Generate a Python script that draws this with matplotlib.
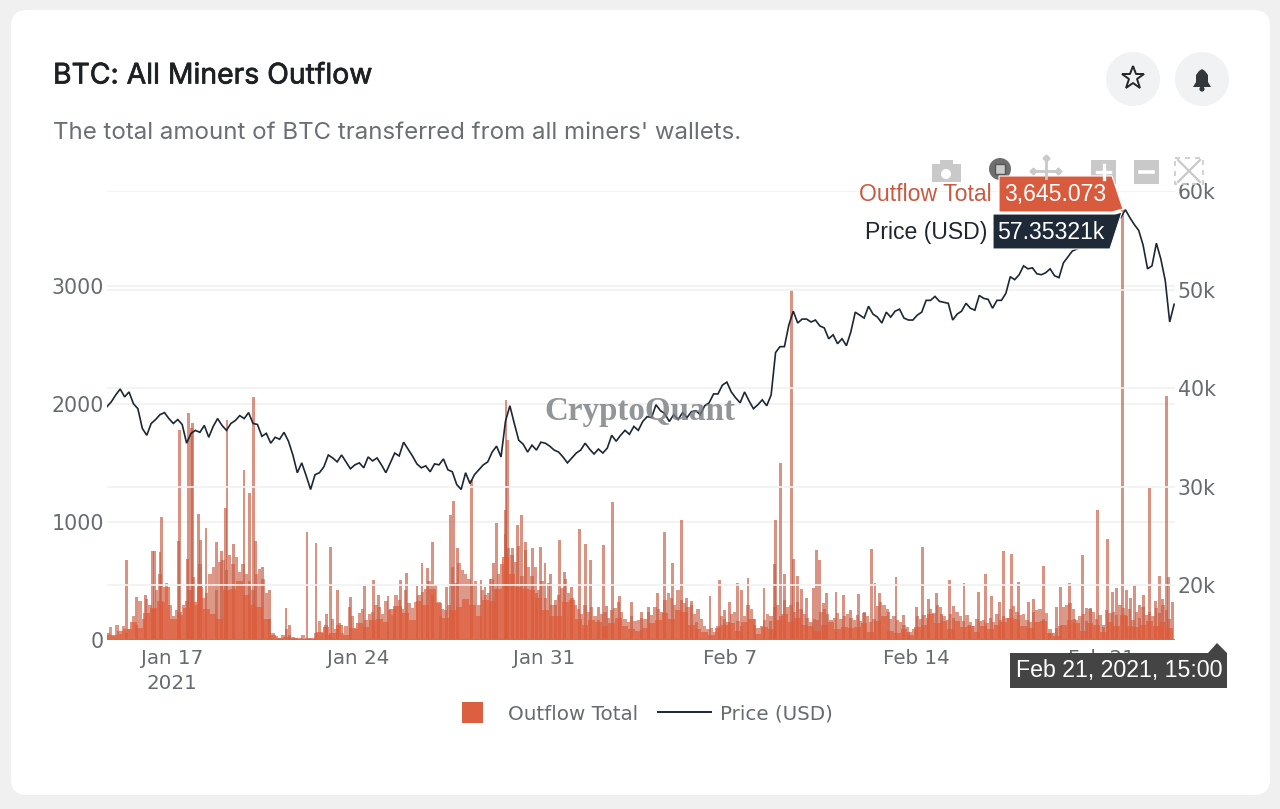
import datetime as dt
import matplotlib
matplotlib.use("Agg")
import matplotlib.pyplot as plt
import matplotlib.dates as mdates
import matplotlib.patheffects as pe
from matplotlib.patches import FancyBboxPatch, Circle, Rectangle, Polygon

# ---------- data ----------
jan17 = mdates.date2num(dt.datetime(2021, 1, 17))

# individual outflow spikes: day offset from Jan 17, BTC
spike_days = [-1.70,-1.33,-0.99,-0.73,-0.66,-0.45,-0.41,0.24,0.27,0.58,0.61,0.72,0.78,1.00,1.09,1.28,1.68,1.88,2.02,2.07,2.33,2.71,2.90,3.07,3.15,3.40,3.66,4.29,4.44,
 5.08,5.42,5.82,5.97,6.22,6.72,7.23,7.60,7.77,8.13,8.39,8.61,8.84,9.22,9.41,9.61,9.79,10.09,10.34,10.49,10.61,10.74,11.28,11.63,11.78,11.97,12.09,12.22,12.55,12.57,12.62,12.83,13.02,
 13.17,13.29,13.57,13.73,13.88,14.04,14.23,14.42,14.60,14.79,15.04,15.32,15.55,15.76,16.06,16.23,16.36,16.57,16.83,17.30,17.68,17.95,18.27,18.52,18.84,19.19,19.37,19.56,19.75,
 20.25,20.60,20.81,21.00,21.30,21.44,21.68,21.94,22.28,22.53,22.68,22.71,22.91,23.04,23.32,23.38,23.53,23.70,23.89,24.16,24.26,24.36,24.51,24.64,24.99,25.27,
 25.52,25.83,26.08,26.32,26.46,26.64,26.96,27.25,27.52,27.71,28.03,28.25,28.46,28.78,28.96,29.26,29.43,29.81,30.03,30.37,30.63,30.85,31.16,31.31,31.61,31.85,32.23,32.41,32.79,33.02,
 33.29,33.44,33.77,33.98,34.27,34.42,34.57,34.85,35.05,35.20,35.40,35.55,35.79,35.93,36.08,36.24,36.41,36.58,36.78,37.00,37.16,37.29,37.44,37.49,37.64]
spike_values = [678,367,381,757,757,746,1042,836,1780,685,1920,1800,1836,1068,850,949,830,750,1115,1864,810,1441,1245,2060,840,620,420,270,130,
 918,822,220,790,420,367,460,510,380,370,290,510,565,460,650,610,830,200,450,1060,1180,780,1356,510,450,520,650,990,1100,2034,1695,780,975,
 1060,830,780,400,790,650,560,300,848,580,450,940,813,680,280,805,290,1172,370,320,240,280,400,918,655,1017,360,330,150,
 370,510,250,320,480,420,525,130,440,160,640,1017,1500,560,2966,690,540,430,360,440,763,680,310,400,410,380,
 250,390,240,770,480,400,240,530,210,70,280,790,350,400,220,510,290,480,130,410,560,370,320,750,730,490,325,350,630,60,
 280,450,480,180,720,270,270,1100,110,860,410,440,3645,420,360,470,300,380,1288,330,540,350,2068,530,320]

# light envelope of the outflow, every 3 hours from Jan 14 13:00
mid_values = [40,110,30,130,50,120,60,90, 200,130,330,180,350,300,260,420, 560,320,480,300,200,250,240,300,
 330,420,530,300,640,360,400,560, 620,420,660,680,590,720,640,700, 580,640,560,500,420,560,600,520,
 400,180,60,30,20,40,90,40, 25,15,12,40,20,15,10,60, 160,60,130,40,180,90,140,60,
 120,280,200,90,230,260,170,220, 240,300,280,220,330,250,210,380, 340,260,420,310,270,320,380,410,
 430,500,380,470,320,260,250,300, 620,480,650,590,560,520,470,500, 300,420,380,400,520,430,560,640,
 900,780,720,660,800,540,760,620, 540,620,420,500,360,480,300,340, 380,440,520,400,360,300,260,220,
 300,240,280,200,170,220,240,190, 250,270,320,240,180,150,200,160, 170,190,180,240,210,280,260,240,
 340,400,360,300,420,340,310,280, 300,220,260,180,120,90,100,70, 120,200,180,150,220,240,160,120,
 200,300,260,180,100,120,170,220, 200,280,300,200,340,280,300,240, 320,260,220,190,150,180,170,240,
 260,220,170,190,230,180,200,220, 190,170,210,160,230,200,150,180, 290,320,300,260,180,200,170,150,
 130,110,70,90,200,180,210,190, 260,230,300,280,200,170,220,190, 240,200,160,210,150,120,180,160,
 170,140,190,150,220,170,200,190, 260,290,240,210,220,170,150,240, 250,260,180,230,90,60,100,120,
 280,300,310,260,170,200,220,160, 260,240,180,210,130,250,230,240, 210,300,270,200,260,170,240,190,
 280,210,240,200,270,230,300,250, 180]

# dense low-level outflow, every 6 hours from Jan 14 13:00
base_values = [60,45,80,90, 150,100,230,270, 330,450,180,210, 270,320,450,260, 220,180,420,430,
 500,380,300,280, 180,40,15,25, 20,15,10,15, 70,110,60,130, 40,100,140,110,
 170,180,150,260, 290,230,170,330, 300,430,310,190, 250,280,350,300, 200,340,330,430,
 700,560,450,430, 420,360,250,200, 200,320,340,180, 130,170,150,120, 140,190,120,90,
 80,100,140,170, 230,180,250,240, 130,90,70,40, 100,130,140,80, 150,180,50,110,
 90,170,220,150, 190,130,120,80, 130,150,90,110, 100,110,140,70, 160,200,80,60,
 90,40,110,130, 220,140,160,90, 160,110,120,70, 120,90,130,150, 190,180,120,100,
 150,160,60,30, 130,170,140,80, 140,130,70,150, 120,210,120,110, 130,160,120,150, 100]

# price in thousand USD, every 4 hours from Jan 14 13:00
price_k = [38.1,38.6,39.3,39.9,39.1,39.6, 38.4,37.9,35.9,35.2,36.4,36.8, 37.3,37.5,36.9,36.4,36.8,36.3,
 34.4,35.4,35.7,35.5,36.2,35.0, 36.1,36.9,36.2,35.7,36.4,36.7, 37.2,36.9,37.5,36.4,36.3,35.1,
 35.4,34.4,35.0,34.8,35.5,34.6, 33.2,31.4,32.4,31.1,29.7,31.2, 31.4,32.0,33.2,32.9,32.5,33.2,
 32.5,31.8,32.2,32.4,31.9,33.0, 32.6,32.9,32.2,31.4,32.4,33.4, 33.1,34.5,33.8,33.1,32.3,31.9,
 32.1,31.5,32.3,32.2,32.8,31.7, 31.5,30.2,29.7,31.4,30.3,31.2, 31.7,32.2,32.5,33.5,34.1,33.0,
 36.6,38.2,36.4,34.7,34.3,33.5, 34.2,33.7,34.5,34.4,34.1,33.7, 33.5,33.0,32.4,32.9,33.4,33.7,
 34.4,33.8,33.3,33.8,33.4,33.9, 35.2,34.6,35.2,35.7,35.3,36.1, 35.7,36.6,37.1,37.0,38.3,37.7,
 37.4,36.6,37.3,36.8,37.5,37.0, 37.6,37.7,37.3,38.2,38.5,39.4, 39.4,40.3,40.6,39.6,39.0,38.5,
 39.6,38.7,37.9,38.3,38.8,38.2, 39.3,43.6,44.2,44.2,46.4,47.8, 46.6,47.0,47.0,46.7,46.9,46.3,
 46.1,45.0,45.4,44.5,45.0,44.3, 45.7,47.7,47.4,47.1,48.3,47.5, 47.2,46.6,47.7,47.2,47.8,48.0,
 47.1,46.9,46.9,47.4,47.7,48.9, 48.9,49.3,48.8,48.7,48.6,46.9, 47.5,47.8,48.6,48.1,47.9,49.4,
 49.1,49.0,48.1,48.9,48.9,49.6, 51.3,51.0,51.5,52.4,52.1,52.2, 51.6,51.5,51.7,52.1,51.4,51.2,
 52.7,53.3,53.9,54.1,54.3,54.6, 55.0,55.4,55.5,55.9,56.2,56.6, 57.0,57.35,58.1,57.3,56.6,56.0,
 54.5,52.1,52.4,54.7,53.1,50.9, 46.7,48.5]

tick_days = [0, 7, 14, 21, 28, 35]
tick_labels = ["Jan 17\n2021", "Jan 24", "Jan 31", "Feb 7", "Feb 14", "Feb 21"]
left_ticks = [0, 1000, 2000, 3000]
right_ticks = [20, 30, 40, 50, 60]
title = "BTC: All Miners Outflow"
subtitle = "The total amount of BTC transferred from all miners' wallets."

# ---------- style ----------
W, H = 1280, 809
BAR = "#E05A38"
SPIKE = "#C75A40"
GREY = "#666B70"
SANS = ["DejaVu Sans"]
ARIAL = ["Liberation Sans", "DejaVu Sans"]
GRID = "#F1F1F2"

fig = plt.figure(figsize=(W / 100, H / 100), dpi=100, facecolor="#F0F0F1")

# page layer in pixel coordinates
bg = fig.add_axes([0, 0, 1, 1], zorder=0)
bg.set_xlim(0, W); bg.set_ylim(H, 0); bg.axis("off")
bg.add_patch(FancyBboxPatch((11, 10), 1259, 785, boxstyle="round,pad=0,rounding_size=16", fc="white", ec="none"))

# chart
ax = fig.add_axes([107 / W, (H - 640) / H, (1175 - 107) / W, (640 - 191) / H], zorder=1)
ax.patch.set_alpha(0)
mid_x = [jan17 - 2.45 + 0.125 * i for i in range(len(mid_values))]
base_x = [jan17 - 2.45 + 0.25 * i for i in range(len(base_values))]
spike_x = [jan17 + d for d in spike_days]
ax.bar(mid_x, mid_values, width=0.125, color=SPIKE, alpha=0.62, lw=0, zorder=2)
ax.bar(spike_x, spike_values, width=0.11, color=SPIKE, alpha=0.65, lw=0, zorder=2)
ax.bar(base_x, base_values, width=0.25, color=BAR, alpha=0.7, lw=0, zorder=3)
ax.set_xlim(jan17 - 2.446, jan17 + 37.75)
ax.set_ylim(0, 3805)
ax.set_yticks(left_ticks)
ax.set_xticks([jan17 + d for d in tick_days])
ax.set_xticklabels(tick_labels, linespacing=1.42)
ax.grid(axis="y", color=GRID, lw=1.2, zorder=0)
ax.set_axisbelow(True)
ax.tick_params(axis="x", length=0, labelsize=14.3, labelcolor=GREY, pad=6.5)
ax.tick_params(axis="y", length=0, labelsize=14.8, labelcolor=GREY, pad=2)
for lab in ax.get_xticklabels() + ax.get_yticklabels():
    lab.set_family(SANS)
for s in ax.spines.values():
    s.set_visible(False)
ax.axhline(0, color="#D9694F", lw=1.8, zorder=4)

ax2 = ax.twinx()
ax2.set_zorder(2)
ax2.patch.set_alpha(0)
price_x = [jan17 - 2.45 + i / 6 for i in range(len(price_k))]
ax2.plot(price_x, price_k, color="#1C2733", lw=1.2, solid_joinstyle="miter", zorder=5)
ax2.set_ylim(14.42, 60)
ax2.set_yticks(right_ticks)
ax2.set_yticklabels([f"{v}k" for v in right_ticks])
ax2.grid(axis="y", color=GRID, lw=1.2)
ax2.set_axisbelow(True)
ax2.tick_params(length=0, labelsize=14.8, labelcolor=GREY, pad=2)
for lab in ax2.get_yticklabels():
    lab.set_family(SANS)
for s in ax2.spines.values():
    s.set_visible(False)

# overlay in pixel coordinates
ov = fig.add_axes([0, 0, 1, 1], zorder=3)
ov.set_xlim(0, W); ov.set_ylim(H, 0); ov.axis("off"); ov.patch.set_alpha(0)

ov.text(53, 76, title, fontsize=20.4, family=["Inter", "DejaVu Sans"], color="#1E2124", va="center",
        path_effects=[pe.withStroke(linewidth=0.5, foreground="#1E2124")])
ov.text(53, 133, subtitle, fontsize=17.3, family=["Inter", "DejaVu Sans"], color="#6A6F74", va="center")

# round buttons
for cx in (1133, 1202):
    ov.add_patch(Circle((cx, 79), 27, fc="#F1F2F4", ec="none"))
ov.plot([1133], [78], marker="*", ms=17, mfc="none", mec="#23282D", mew=1.4)
ov.add_patch(Polygon([(1193, 87), (1196, 82), (1196, 75), (1199, 71), (1202, 69), (1205, 71), (1208, 75), (1208, 82), (1211, 87)], fc="#33383D", ec="none"))
ov.add_patch(Circle((1202, 89), 2.6, fc="#33383D", ec="none"))

# modebar
G = "#C9C9C9"
ov.add_patch(Rectangle((932, 164), 29, 18, fc=G, ec="none"))
ov.add_patch(Rectangle((940, 160), 13, 5, fc=G, ec="none"))
ov.add_patch(Circle((946, 174), 5, fc="white", ec="none"))
ov.add_patch(Circle((1000, 169), 11, fc="#6E6E6E", ec="none"))
ov.add_patch(Rectangle((995, 164), 10, 10, fc="#C9C9C9", ec="#555555", lw=1))
ov.plot([1033, 1058], [171, 171], color=G, lw=2)
ov.plot([1045.5, 1045.5], [160, 178], color=G, lw=2)
ov.plot([1045.5, 1033, 1058], [158, 171, 171], ls="none", marker="D", ms=3.5, color=G)
ov.add_patch(Rectangle((1091, 160), 25, 24, fc=G, ec="none"))
ov.plot([1097, 1110], [172, 172], color="white", lw=2.4)
ov.plot([1103.5, 1103.5], [165, 179], color="white", lw=2.4)
ov.add_patch(Rectangle((1134, 160), 25, 24, fc=G, ec="none"))
ov.plot([1140, 1153], [172, 172], color="white", lw=2.6)
ov.plot([1178, 1200], [160, 182], color=G, lw=1.6)
ov.plot([1178, 1200], [182, 160], color=G, lw=1.6)
ov.add_patch(Rectangle((1175, 158), 28, 26, fc="none", ec=G, lw=1.2, ls=(0, (3, 3))))

# watermark
ov.text(640, 411, "CryptoQuant", fontsize=23.8, family=["Liberation Serif", "DejaVu Serif"], weight="bold",
        color="#777C80", alpha=0.8, ha="center", va="center")

# tooltips
ov.add_patch(Polygon([(999, 176), (1112, 176), (1123, 209), (1112, 212), (999, 212)], fc="#D95B3E", ec="white", lw=0.8))
ov.add_patch(Polygon([(993, 214), (1115, 214), (1122, 212), (1110, 249), (993, 249)], fc="#1F2A38", ec="white", lw=0.8))
ov.text(1055, 194.5, "3,645.073", fontsize=16.6, color="white", family=ARIAL, ha="center", va="center")
ov.text(1051, 232, "57.35321k", fontsize=16.6, color="white", family=ARIAL, ha="center", va="center")
ov.text(992, 194.5, "Outflow Total", fontsize=16.6, color="#C75A40", family=ARIAL, ha="right", va="center")
ov.text(987, 232, "Price (USD)", fontsize=16.6, color="#1E2730", family=ARIAL, ha="right", va="center")
ov.add_patch(Polygon([(1010, 653), (1208, 653), (1217, 643), (1227, 653), (1227, 688), (1010, 688)], fc="#444444", ec="none"))
ov.text(1119, 671, "Feb 21, 2021, 15:00", fontsize=16.7, color="white", family=ARIAL, ha="center", va="center")

# legend
ov.add_patch(Rectangle((462, 702), 21, 21, fc="#DD5F42", ec="none"))
ov.text(508, 714.5, "Outflow Total", fontsize=14.3, color=GREY, family=SANS, va="center")
ov.plot([658, 711], [712, 712], color="#1C2733", lw=1.4)
ov.text(720, 714.5, "Price (USD)", fontsize=14.3, color=GREY, family=SANS, va="center")

fig.savefig("out.png", dpi=100, facecolor=fig.get_facecolor())
